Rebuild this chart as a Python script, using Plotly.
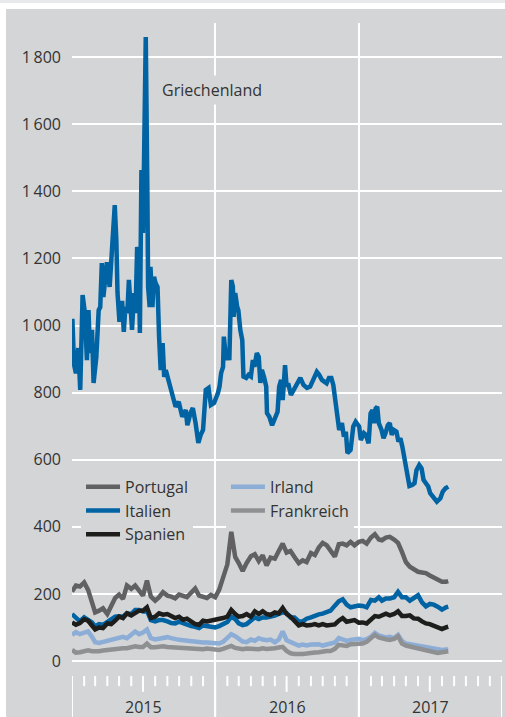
import plotly.graph_objects as go
import pandas as pd

# ---------------- data ----------------
greece_dates = [
    "2015-01-02", "2015-01-06", "2015-01-11", "2015-01-17", "2015-01-22", "2015-01-28",
    "2015-02-03", "2015-02-08", "2015-02-12", "2015-02-16", "2015-02-21", "2015-02-25",
    "2015-03-04", "2015-03-10", "2015-03-14", "2015-03-18", "2015-03-22", "2015-03-27",
    "2015-03-31", "2015-04-07", "2015-04-10", "2015-04-15", "2015-04-20", "2015-04-24",
    "2015-04-27", "2015-05-02", "2015-05-04", "2015-05-09", "2015-05-13", "2015-05-17",
    "2015-05-22", "2015-05-26", "2015-05-30", "2015-06-03", "2015-06-08", "2015-06-12",
    "2015-06-16", "2015-06-20", "2015-06-23", "2015-06-27", "2015-07-01", "2015-07-03",
    "2015-07-08", "2015-07-12", "2015-07-14", "2015-07-18", "2015-07-20", "2015-07-25",
    "2015-07-29", "2015-08-02", "2015-08-07", "2015-08-11", "2015-08-15", "2015-08-20",
    "2015-08-24", "2015-08-28", "2015-09-03", "2015-09-10", "2015-09-13", "2015-09-22",
    "2015-09-30", "2015-10-09", "2015-10-18", "2015-10-22", "2015-10-30", "2015-11-05",
    "2015-11-12", "2015-11-19", "2015-11-25", "2015-12-01", "2015-12-08", "2015-12-15",
    "2015-12-21", "2015-12-29",
    "2016-01-08", "2016-01-12", "2016-01-16", "2016-01-21", "2016-01-23", "2016-01-29",
    "2016-02-02", "2016-02-06", "2016-02-11", "2016-02-15", "2016-02-17", "2016-02-21",
    "2016-02-26", "2016-02-29", "2016-03-05", "2016-03-10", "2016-03-13", "2016-03-20",
    "2016-03-26", "2016-04-01", "2016-04-06", "2016-04-10", "2016-04-16", "2016-04-21",
    "2016-04-25", "2016-04-29", "2016-05-05", "2016-05-10", "2016-05-12", "2016-05-18",
    "2016-05-25", "2016-05-31", "2016-06-08", "2016-06-12", "2016-06-17", "2016-06-21",
    "2016-06-27", "2016-07-01", "2016-07-05", "2016-07-12", "2016-07-19", "2016-07-27",
    "2016-08-05", "2016-08-13", "2016-08-22", "2016-08-30", "2016-09-08", "2016-09-16",
    "2016-09-22", "2016-09-29", "2016-10-05", "2016-10-11", "2016-10-17", "2016-10-23",
    "2016-10-28", "2016-11-01", "2016-11-06", "2016-11-12", "2016-11-19", "2016-11-24",
    "2016-11-29", "2016-12-03", "2016-12-11", "2016-12-18", "2016-12-24",
    "2017-01-02", "2017-01-06", "2017-01-14", "2017-01-19", "2017-01-26", "2017-01-31",
    "2017-02-05", "2017-02-09", "2017-02-13", "2017-02-17", "2017-02-21", "2017-02-28",
    "2017-03-05", "2017-03-10", "2017-03-16", "2017-03-21", "2017-03-26", "2017-03-31",
    "2017-04-07", "2017-04-12", "2017-04-17", "2017-04-22", "2017-04-28", "2017-05-04",
    "2017-05-10", "2017-05-17", "2017-05-23", "2017-05-28", "2017-06-04", "2017-06-10",
    "2017-06-15", "2017-06-21", "2017-06-27", "2017-07-02", "2017-07-11", "2017-07-19",
    "2017-07-28", "2017-08-03", "2017-08-10", "2017-08-17",
]
greece = [
    1020, 885, 858, 933, 808, 1091,
    1037, 897, 1046, 918, 987, 829,
    906, 1046, 1055, 1186, 1085, 1157,
    1189, 1115, 1186, 1264, 1359, 1255,
    1097, 1011, 1067, 1067, 981, 1055,
    1037, 1136, 1055, 987, 1097, 1037,
    1234, 1216, 978, 1464, 1276, 1473,
    1860, 1413, 1115, 1055, 1175, 1055,
    1145, 1127, 1115, 966, 867, 948,
    847, 867, 838, 808, 788, 758,
    773, 728, 748, 703, 739, 754,
    709, 650, 674, 689, 808, 814,
    763, 769,
    799, 818, 858, 877, 967, 897,
    927, 897, 1136, 1116, 1026, 1097,
    1056, 1046, 987, 957, 848, 844,
    853, 848, 897, 877, 918, 907,
    829, 868, 844, 818, 739, 728,
    703, 718, 743, 818, 838, 778,
    882, 818, 828, 793, 808, 829,
    844, 823, 814, 818, 838, 862,
    853, 838, 833, 828, 844, 844,
    823, 788, 748, 689, 709, 669,
    684, 620, 629, 699, 713,
    699, 659, 679, 674, 649, 738,
    748, 709, 753, 758, 709, 689,
    664, 679, 703, 709, 674, 689,
    684, 654, 664, 639, 599, 560,
    522, 525, 530, 569, 584, 574,
    540, 530, 520, 500, 485, 475,
    485, 505, 515, 520,
]

# common observation dates (1st, 11th, 21st of each month) for the other countries
dates = [f"{y}-{m:02d}-{d:02d}" for y in (2015, 2016) for m in range(1, 13) for d in (1, 11, 21)]
dates += [f"2017-{m:02d}-{d:02d}" for m in range(1, 8) for d in (1, 11, 21)]
dates += ["2017-08-01", "2017-08-11", "2017-08-17"]

portugal = [
    207, 225, 222, 234, 212, 172, 145, 150, 157, 140, 165, 188,
    198, 185, 225, 215, 225, 212, 195, 240, 192, 180, 190, 205,
    195, 192, 187, 198, 195, 190, 204, 216, 195, 190, 188, 197,
    190, 212, 250, 288, 385, 310, 292, 268, 292, 312, 318, 298,
    315, 285, 308, 305, 328, 350, 323, 328, 310, 292, 300, 295,
    322, 316, 338, 352, 345, 326, 311, 348, 350, 345, 355, 345,
    355, 358, 350, 368, 378, 362, 360, 368, 370, 362, 352, 325,
    295, 281, 275, 266, 264, 262, 255, 249, 244, 236, 236, 238,
]
italien = [
    140, 128, 118, 130, 122, 115, 103, 110, 108, 118, 123, 132,
    133, 132, 142, 140, 152, 152, 148, 150, 122, 118, 122, 122,
    118, 113, 112, 117, 113, 108, 104, 102, 98, 106, 103, 102,
    100, 104, 110, 116, 132, 125, 112, 107, 110, 122, 130, 125,
    130, 130, 132, 135, 140, 145, 143, 130, 130, 118, 118, 126,
    130, 135, 139, 141, 145, 150, 165, 178, 184, 168, 160, 164,
    165, 164, 160, 182, 180, 190, 180, 186, 186, 190, 206, 190,
    190, 180, 186, 196, 175, 163, 170, 168, 162, 153, 160, 162,
]
spanien = [
    115, 108, 113, 124, 120, 106, 94, 100, 98, 112, 110, 120,
    132, 128, 142, 136, 142, 150, 150, 160, 128, 132, 142, 138,
    140, 134, 128, 132, 123, 126, 118, 110, 108, 120, 118, 120,
    122, 124, 128, 132, 152, 140, 132, 134, 140, 132, 148, 140,
    148, 140, 137, 145, 142, 158, 140, 132, 118, 106, 110, 106,
    107, 110, 106, 110, 106, 106, 109, 120, 128, 117, 120, 122,
    114, 115, 112, 126, 134, 132, 136, 141, 136, 140, 148, 134,
    134, 136, 127, 126, 118, 112, 110, 106, 102, 95, 100, 102,
]
irland = [
    78, 86, 80, 86, 88, 72, 56, 54, 57, 58, 60, 64,
    68, 72, 68, 78, 88, 80, 85, 94, 68, 64, 67, 70,
    71, 68, 64, 63, 62, 60, 58, 58, 57, 55, 55, 54,
    52, 52, 57, 68, 80, 74, 66, 58, 56, 64, 60, 68,
    64, 62, 64, 56, 64, 88, 62, 56, 50, 46, 49, 46,
    49, 50, 50, 46, 48, 50, 55, 68, 65, 60, 63, 66,
    66, 62, 65, 72, 84, 76, 72, 70, 72, 68, 78, 60,
    52, 50, 48, 46, 44, 42, 40, 37, 34, 33, 34, 34,
]
frankreich = [
    33, 25, 26, 29, 32, 29, 28, 29, 31, 33, 33, 36,
    38, 38, 38, 40, 44, 42, 42, 52, 41, 41, 44, 44,
    42, 41, 41, 39, 38, 38, 37, 35, 35, 35, 37, 36,
    34, 33, 36, 40, 45, 39, 37, 35, 37, 38, 36, 35,
    38, 36, 36, 38, 40, 42, 30, 23, 21, 20, 21, 22,
    25, 25, 26, 29, 30, 30, 36, 48, 47, 45, 50, 51,
    50, 52, 57, 66, 78, 70, 67, 65, 63, 66, 74, 52,
    46, 43, 41, 39, 37, 33, 29, 26, 24, 26, 28, 29,
]

y_tick_values = [0, 200, 400, 600, 800, 1000, 1200, 1400, 1600, 1800]
y_tick_labels = ["0", "200", "400", "600", "800",
                 "1\u2009000", "1\u2009200", "1\u2009400", "1\u2009600", "1\u2009800"]
year_labels = ["2015", "2016", "2017"]
year_label_dates = ["2015-07-02", "2016-07-02", "2017-07-02"]
year_boundaries = ["2016-01-01", "2017-01-01"]

# ---------------- styling ----------------
BG = "#d4d5d7"
TXT = "#333333"
FONT = "Open Sans, Noto Sans, sans-serif"
BLUE = "#0063a3"
LW = 4.5

fig = go.Figure()

fig.add_trace(go.Scatter(x=greece_dates, y=greece, mode="lines", name="Griechenland",
                         line=dict(color=BLUE, width=LW), showlegend=False))
series = [
    ("Portugal", portugal, "#616163", "legend"),
    ("Italien", italien, BLUE, "legend"),
    ("Spanien", spanien, "#1d1d1b", "legend"),
    ("Irland", irland, "#8cadd6", "legend2"),
    ("Frankreich", frankreich, "#8f9092", "legend2"),
]
for name, vals, col, lg in series:
    fig.add_trace(go.Scatter(x=dates, y=vals, mode="lines", name=name,
                             line=dict(color=col, width=LW), legend=lg))

# bottom tick marks (monthly / half-year / year)
shapes = []
for d in pd.date_range("2015-01-01", "2018-01-01", freq="MS"):
    if d.month == 1:
        y1 = -167
    elif d.month == 7:
        y1 = -92
    else:
        y1 = -75
    shapes.append(dict(type="line", xref="x", yref="y", x0=d, x1=d, y0=-45, y1=y1,
                       line=dict(color="white", width=2), layer="above"))

# frame decorations in the margins
X0 = -72 / 430
X1 = 433 / 430
shapes.append(dict(type="rect", xref="paper", yref="paper", x0=X0, x1=(6 - 72) / 430,
                   y0=0, y1=717 / 694, fillcolor="white", line=dict(width=0), layer="above"))
shapes.append(dict(type="rect", xref="paper", yref="paper", x0=X0, x1=X1,
                   y0=(717 - 9) / 694, y1=717 / 694, fillcolor="white", line=dict(width=0),
                   layer="above"))
shapes.append(dict(type="rect", xref="paper", yref="paper", x0=X0, x1=X1,
                   y0=(717 - 3) / 694, y1=717 / 694, fillcolor="#e8e9eb", line=dict(width=0),
                   layer="above"))

annotations = [dict(x="2015-08-07", y=1702, xref="x", yref="y", text="Griechenland",
                    showarrow=False, xanchor="left", yanchor="middle", bgcolor=BG,
                    borderpad=3, font=dict(size=16, color=TXT, family=FONT))]
for lbl, d in zip(year_labels, year_label_dates):
    annotations.append(dict(x=d, y=-137, xref="x", yref="y", text=lbl, showarrow=False,
                            xanchor="center", yanchor="middle",
                            font=dict(size=16, color=TXT, family=FONT)))

legend_common = dict(bgcolor=BG, borderwidth=0, font=dict(size=16, color=TXT, family=FONT),
                     orientation="v", xanchor="left", yanchor="top", itemwidth=34,
                     itemclick=False, itemdoubleclick=False)

fig.update_layout(
    width=505, height=717,
    margin=dict(l=72, r=3, t=23, b=0, pad=0),
    paper_bgcolor=BG, plot_bgcolor=BG,
    font=dict(family=FONT, size=16, color=TXT),
    showlegend=True,
    legend=dict(x=0.021, y=0.3563, **legend_common),
    legend2=dict(x=0.358, y=0.3563, **legend_common),
    xaxis=dict(type="date", range=["2015-01-01", "2018-01-01"], tickvals=year_boundaries,
               showticklabels=False, showgrid=True, gridcolor="white", gridwidth=2,
               zeroline=False, showline=False, ticks=""),
    yaxis=dict(range=[-167, 1902], tickvals=y_tick_values, ticktext=y_tick_labels,
               showgrid=True, gridcolor="white", gridwidth=2, zeroline=False,
               showline=False, ticks="", ticklabelstandoff=10,
               tickfont=dict(size=16, color=TXT, family=FONT)),
    shapes=shapes,
    annotations=annotations,
)

fig.write_html("out.html", config={"displayModeBar": False},
               post_script="document.body.style.margin='0';document.body.style.overflow='hidden';")
